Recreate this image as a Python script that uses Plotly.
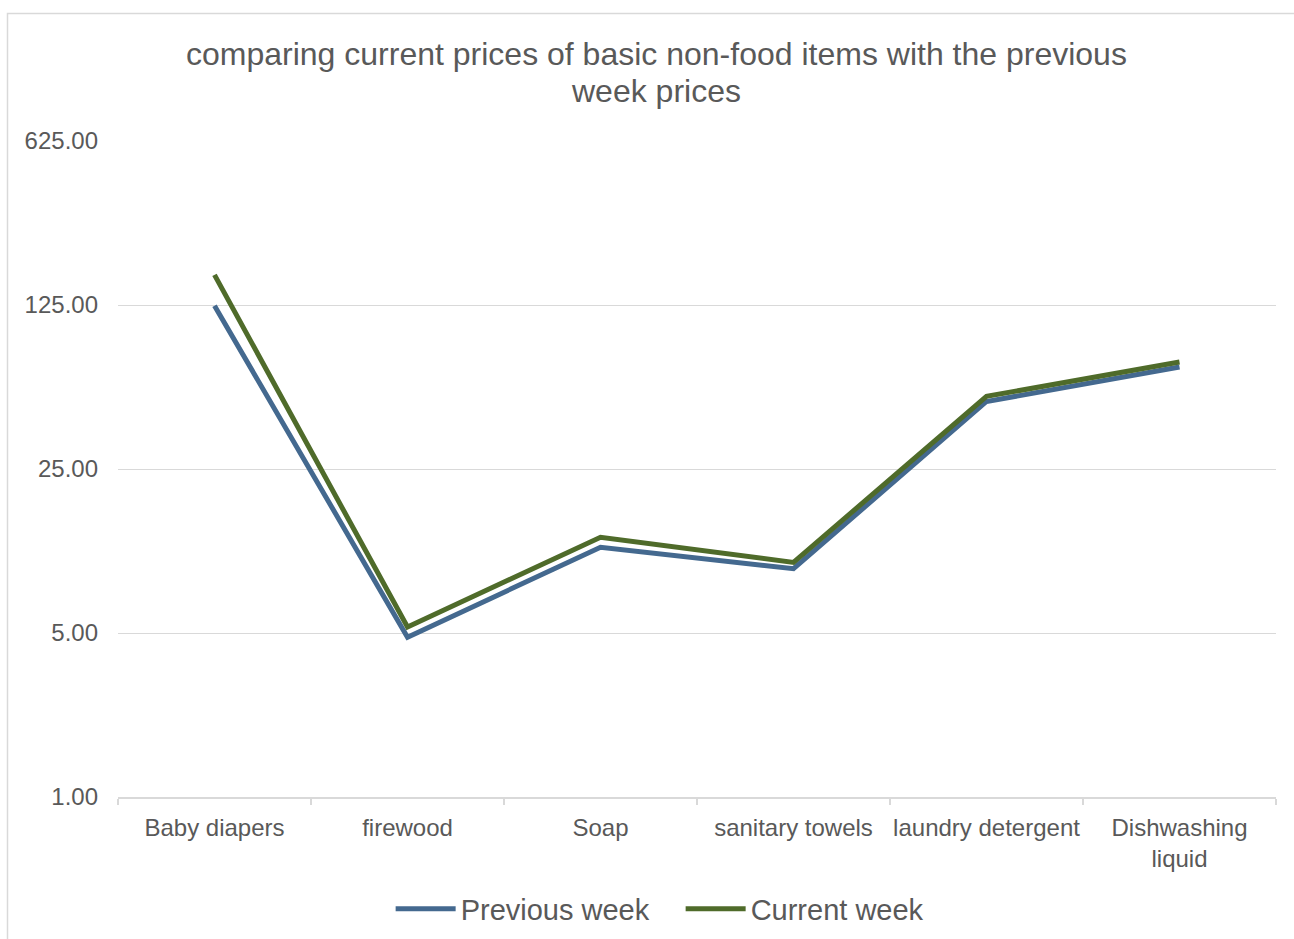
import math
import plotly.graph_objects as go

categories = ["Baby diapers", "firewood", "Soap", "sanitary towels", "laundry detergent", "Dishwashing<br>liquid"]
previous_week = [124, 4.8, 11.6, 9.4, 48.5, 68.0]
current_week = [168, 5.3, 12.8, 10.0, 51.0, 71.5]
tick_vals = [1, 5, 25, 125, 625]
tick_text = ["1.00", "5.00", "25.00", "125.00", "625.00"]
title_lines = ["comparing current prices of basic non-food items with the previous", "week prices"]

FONT = "Liberation Sans, Arial, sans-serif"
TXT = "#595959"

fig = go.Figure()
fig.add_trace(go.Scatter(x=categories, y=previous_week, mode="lines", name="Previous week",
                         line=dict(color="#44698F", width=5)))
fig.add_trace(go.Scatter(x=categories, y=current_week, mode="lines", name="Current week",
                         line=dict(color="#4F6B2A", width=5)))

W, H = 1294, 939
L, R, T, B = 118, 18, 141, 142
pw, ph = W - L - R, H - T - B

def px_x(p):
    return (p - L) / pw

def px_y(p):
    return (H - B - p) / ph

fig.add_shape(type="rect", xref="paper", yref="paper",
              x0=px_x(7.5), x1=px_x(1310), y0=px_y(13.5), y1=px_y(960),
              line=dict(color="#D9D9D9", width=1.5), fillcolor="rgba(0,0,0,0)", layer="below")

for line_text, ypx in zip(title_lines, [54, 91]):
    fig.add_annotation(text=line_text, xref="paper", yref="paper", x=px_x(656), y=px_y(ypx),
                       xanchor="center", yanchor="middle", showarrow=False,
                       font=dict(size=32, color=TXT, family=FONT))

fig.update_layout(
    width=W, height=H,
    margin=dict(l=L, r=R, t=T, b=B, autoexpand=False),
    paper_bgcolor="white", plot_bgcolor="white",
    font=dict(family=FONT, color=TXT),
    showlegend=True,
    legend=dict(orientation="h", xref="container", yref="container", x=0.526, xanchor="center",
                y=1 - 909 / H, yanchor="middle", font=dict(size=29, color=TXT, family=FONT),
                itemwidth=60, entrywidth=215, entrywidthmode="pixels",
                traceorder="normal", bgcolor="rgba(0,0,0,0)"),
    xaxis=dict(type="category", range=[-0.5, 5.5], showgrid=False, showline=True,
               linecolor="#D9D9D9", linewidth=1.5, ticks="outside", tickson="boundaries",
               ticklen=6, tickcolor="#D9D9D9", tickwidth=1.5, ticklabelstandoff=8,
               tickangle=0, automargin=False,
               tickfont=dict(size=24, color=TXT, family=FONT), fixedrange=True),
    yaxis=dict(type="log", range=[0, math.log10(625)], tickvals=tick_vals, ticktext=tick_text,
               showgrid=True, gridcolor="#D9D9D9", gridwidth=1.2, zeroline=False, showline=False,
               ticks="", ticklabelstandoff=19, automargin=False,
               tickfont=dict(size=24, color=TXT, family=FONT), fixedrange=True),
)

fig.write_html("out.html")
